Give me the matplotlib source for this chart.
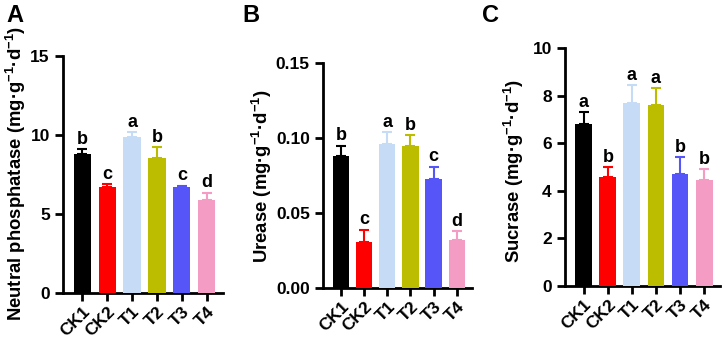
import matplotlib
matplotlib.use("Agg")
import matplotlib.pyplot as plt

plt.rcParams['font.family'] = ['Liberation Sans', 'DejaVu Sans']
plt.rcParams['font.weight'] = 'bold'
plt.rcParams['mathtext.default'] = 'regular'

groups = ['CK1', 'CK2', 'T1', 'T2', 'T3', 'T4']
colors = ['#000000', '#ff0000', '#c6dcf6', '#bdbd00', '#5656f8', '#f59cc4']

phos = [8.8, 6.7, 9.9, 8.55, 6.7, 5.9]
phos_err = [0.3, 0.2, 0.3, 0.7, 0.1, 0.45]
phos_sig = ['b', 'c', 'a', 'b', 'c', 'd']

urease = [0.088, 0.031, 0.096, 0.095, 0.073, 0.032]
urease_err = [0.007, 0.008, 0.008, 0.007, 0.008, 0.006]
urease_sig = ['b', 'c', 'a', 'b', 'c', 'd']

sucrase = [6.8, 4.6, 7.7, 7.6, 4.7, 4.45]
sucrase_err = [0.5, 0.4, 0.75, 0.7, 0.7, 0.45]
sucrase_sig = ['a', 'b', 'a', 'a', 'b', 'b']

W, H = 726, 343
fig = plt.figure(figsize=(W / 100, H / 100), dpi=100)


def panel(box, vals, errs, sig, ylim, yticks, yfmt, ylabel, label_xy, letter, letter_x):
    x0, ytop, x1, ybot = box
    ax = fig.add_axes([x0 / W, 1 - ybot / H, (x1 - x0) / W, (ybot - ytop) / H])
    xs = list(range(len(vals)))
    ax.bar(xs, vals, width=0.7, color=colors, zorder=3)
    for x, v, e, c, s in zip(xs, vals, errs, colors, sig):
        ax.errorbar(x, v, yerr=[[0], [e]], color=c, capsize=3.5,
                    elinewidth=1.5, capthick=1.5, zorder=2)
        ax.text(x, v + e + ylim[1] * 0.005, s, ha='center', va='bottom',
                fontsize=13, fontweight='bold')
    ax.set_ylim(*ylim)
    ax.set_xlim(-0.78, 5.66)
    ax.set_yticks(yticks)
    ax.set_yticklabels([yfmt.format(t) for t in yticks])
    ax.set_xticks(xs)
    ax.set_xticklabels(groups, rotation=45, ha='right', rotation_mode='anchor')
    ax.tick_params(axis='both', width=2, length=6, labelsize=12.5)
    ax.tick_params(axis='x', pad=2)
    for sp in ['top', 'right']:
        ax.spines[sp].set_visible(False)
    for sp in ['left', 'bottom']:
        ax.spines[sp].set_linewidth(2)
    ax.set_ylabel(ylabel, fontsize=13.3, fontweight='bold')
    # label position given in figure pixels (right edge, centre)
    lx, ly = label_xy
    ax.yaxis.set_label_coords((lx - x0) / (x1 - x0), (ybot - ly) / (ybot - ytop))
    fig.text(letter_x / W, 1 - 4 / H, letter, fontsize=17, fontweight='bold',
             ha='left', va='top')
    return ax


panel((63, 56, 223, 293), phos, phos_err, phos_sig, (0, 15), [0, 5, 10, 15], '{:g}',
      'Neutral phosphatase (mg·g$^{-1}$·d$^{-1}$)', (28, 173), 'A', 6)
panel((323, 63, 472, 288), urease, urease_err, urease_sig, (0, 0.15),
      [0, 0.05, 0.10, 0.15], '{:.2f}',
      'Urease (mg·g$^{-1}$·d$^{-1}$)', (274, 176), 'B', 242)
panel((565, 48, 720, 286), sucrase, sucrase_err, sucrase_sig, (0, 10),
      [0, 2, 4, 6, 8, 10], '{:g}',
      'Sucrase (mg·g$^{-1}$·d$^{-1}$)', (526, 171), 'C', 482)

fig.savefig('out.png', dpi=100)
